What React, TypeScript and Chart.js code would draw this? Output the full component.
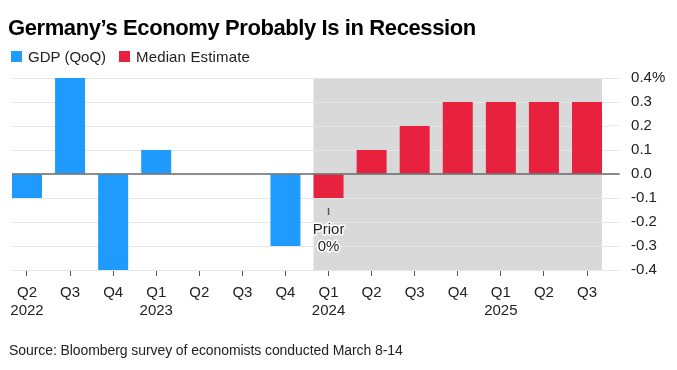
import React, { useEffect, useRef } from "react";
import { Chart, registerables } from "chart.js";

Chart.register(...registerables);

const quarters = ["Q2", "Q3", "Q4", "Q1", "Q2", "Q3", "Q4", "Q1", "Q2", "Q3", "Q4", "Q1", "Q2", "Q3"];
const years = ["2022", "", "", "2023", "", "", "", "2024", "", "", "", "2025", "", ""];
const gdp = [-0.1, 0.4, -0.4, 0.1, 0.0, 0.0, -0.3, null, null, null, null, null, null, null];
const estimate = [null, null, null, null, null, null, null, -0.1, 0.1, 0.2, 0.3, 0.3, 0.3, 0.3];
const gridValues = [-0.4, -0.3, -0.2, -0.1, 0.1, 0.2, 0.3, 0.4];
const annotationIndex = 7;
const annotationLines = ["Prior", "0%"];

const BLUE = "#1f9bff";
const RED = "#e8213f";
const FONT = "'Liberation Sans', Arial, sans-serif";

const bgPlugin = {
  id: "bgPlugin",
  beforeDraw(chart: any) {
    const { ctx, chartArea } = chart;
    const meta = chart.getDatasetMeta(1);
    const first = meta.data[annotationIndex];
    const last = meta.data[meta.data.length - 1];
    if (!first || !last) return;
    const left = first.x - first.width / 2;
    const right = last.x + last.width / 2;
    ctx.save();
    ctx.fillStyle = "#d9d9d9";
    ctx.fillRect(left, chartArea.top, right - left, chartArea.bottom - chartArea.top);
    ctx.restore();
  },
  beforeDatasetsDraw(chart: any) {
    const { ctx, chartArea, scales } = chart;
    const m0 = chart.getDatasetMeta(0).data[0];
    const left = m0.x - m0.width / 2;
    ctx.save();
    ctx.strokeStyle = "#e6e6e6";
    ctx.lineWidth = 1;
    gridValues.forEach((v) => {
      const y = Math.round(scales.y.getPixelForValue(v)) + 0.5;
      ctx.beginPath();
      ctx.moveTo(left, y);
      ctx.lineTo(chartArea.right, y);
      ctx.stroke();
    });
    ctx.restore();
  },
  afterDatasetsDraw(chart: any) {
    const { ctx, chartArea, scales } = chart;
    const m0 = chart.getDatasetMeta(0).data[0];
    const left = m0.x - m0.width / 2;
    const y0 = scales.y.getPixelForValue(0);
    ctx.save();
    ctx.strokeStyle = "#666666";
    ctx.lineWidth = 1.5;
    ctx.beginPath();
    ctx.moveTo(left, y0);
    ctx.lineTo(chartArea.right + 11, y0);
    ctx.stroke();

    // annotation
    const x = scales.x.getPixelForValue(annotationIndex);
    const barBottom = scales.y.getPixelForValue(estimate[annotationIndex] as number);
    ctx.strokeStyle = "#555";
    ctx.lineWidth = 1.5;
    ctx.beginPath();
    ctx.moveTo(x, barBottom + 10);
    ctx.lineTo(x, barBottom + 17);
    ctx.stroke();
    ctx.font = "15px " + FONT;
    ctx.textAlign = "center";
    ctx.textBaseline = "middle";
    annotationLines.forEach((t, i) => {
      const ty = barBottom + 32 + i * 16.5;
      ctx.lineWidth = 3;
      ctx.strokeStyle = "#ffffff";
      ctx.lineJoin = "round";
      ctx.strokeText(t, x, ty);
      ctx.fillStyle = "#222";
      ctx.fillText(t, x, ty);
    });
    ctx.restore();
  },
};

export default function App() {
  const ref = useRef<HTMLCanvasElement | null>(null);
  useEffect(() => {
    if (!ref.current) return;
    Chart.defaults.font.family = FONT;
    const chart = new Chart(ref.current, {
      type: "bar",
      data: {
        labels: quarters.map((q, i) => [q, years[i]]),
        datasets: [
          {
            label: "GDP (QoQ)",
            data: gdp,
            backgroundColor: BLUE,
            borderWidth: 0,
            grouped: false,
            barPercentage: 0.6964,
            categoryPercentage: 1,
          } as any,
          {
            label: "Median Estimate",
            data: estimate,
            backgroundColor: RED,
            borderWidth: 0,
            grouped: false,
            barPercentage: 0.6964,
            categoryPercentage: 1,
          } as any,
        ],
      },
      options: {
        responsive: false,
        animation: false,
        devicePixelRatio: 1,
        layout: { padding: { left: 5.46, top: 78, right: 0, bottom: 0 } },
        plugins: { legend: { display: false }, title: { display: false }, tooltip: { enabled: false } },
        scales: {
          x: {
            type: "category",
            offset: true,
            border: { display: false },
            grid: {
              display: true,
              offset: false,
              drawOnChartArea: false,
              drawTicks: true,
              tickLength: 6,
              color: "#555",
              lineWidth: 1,
            },
            ticks: {
              autoSkip: false,
              maxRotation: 0,
              minRotation: 0,
              padding: 7,
              color: "#222",
              font: { size: 15, family: FONT, lineHeight: 1.25 },
            },
            afterFit: (s: any) => {
              s.height = 100;
            },
          },
          y: {
            type: "linear",
            position: "right",
            min: -0.4,
            max: 0.4,
            border: { display: false },
            grid: {
              display: true,
              drawOnChartArea: false,
              drawTicks: true,
              tickLength: 11,
              color: "#e6e6e6",
            },
            ticks: {
              stepSize: 0.1,
              padding: 11.5,
              color: "#222",
              font: { size: 15, family: FONT },
              callback: (v: any) => (Math.abs(v - 0.4) < 1e-9 ? "0.4%" : Number(v).toFixed(1)),
            },
            afterFit: (s: any) => {
              s.width = 68.46;
            },
          },
        },
      },
      plugins: [bgPlugin],
    });
    return () => chart.destroy();
  }, []);

  return (
    <div style={{ position: "fixed", left: 0, top: 0, width: 677, height: 370, background: "#fff", fontFamily: FONT }}>
      <canvas ref={ref} width={677} height={370} style={{ position: "absolute", left: 0, top: 0, width: 677, height: 370 }} />
      <div style={{ position: "absolute", left: 8, top: 17, fontSize: 22, lineHeight: "22px", fontWeight: 700, color: "#000", whiteSpace: "nowrap", letterSpacing: -0.4 }}>
        Germany’s Economy Probably Is in Recession
      </div>
      <div style={{ position: "absolute", left: 11, top: 51, width: 10.5, height: 11, background: BLUE }} />
      <div style={{ position: "absolute", left: 28, top: 49, fontSize: 15, lineHeight: "15px", color: "#222", whiteSpace: "nowrap" }}>GDP (QoQ)</div>
      <div style={{ position: "absolute", left: 119, top: 51, width: 10.5, height: 11, background: RED }} />
      <div style={{ position: "absolute", left: 136, top: 49, fontSize: 15, lineHeight: "15px", color: "#222", whiteSpace: "nowrap", letterSpacing: 0.15 }}>Median Estimate</div>
      <div style={{ position: "absolute", left: 9, top: 343, fontSize: 14, lineHeight: "14px", color: "#222", whiteSpace: "nowrap", letterSpacing: -0.08 }}>
        Source: Bloomberg survey of economists conducted March 8-14
      </div>
    </div>
  );
}
